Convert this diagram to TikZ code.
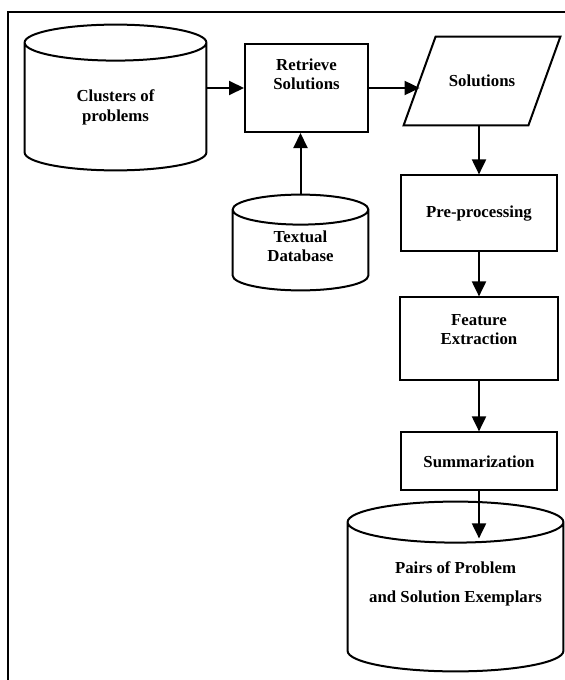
\documentclass[tikz,border=0pt]{standalone}
\usepackage{fontspec}
\setmainfont{Liberation Serif}
\usetikzlibrary{positioning,arrows.meta,calc}

% outline of a drum round the body node #1, ellipse y radius #2
\newcommand{\drum}[2]{%
  \draw[line width=1pt] let \p1=(#1.north west), \p2=(#1.south east),
      \n1={0.5*\x2-0.5*\x1} in
    (\x1,\y1-#2) -- (\x1,\y2+#2)
    arc[start angle=180, end angle=360, x radius={\n1*1pt}, y radius=#2]
    -- (\x2,\y1-#2)
    arc[start angle=0, end angle=360, x radius={\n1*1pt}, y radius=#2];}

% slanted outline round the body node #1, leaning by #2 at top and bottom
\newcommand{\slant}[2]{%
  \draw[line width=1pt] ([xshift=-#2]#1.south west) -- ([xshift=#2]#1.north west)
    -- ([xshift=#2]#1.north east) -- ([xshift=-#2]#1.south east) -- cycle;}

\begin{document}
\begin{tikzpicture}[
  x=0.5pt, y=-0.5pt,
  words/.style = {font=\bfseries\fontsize{8.4}{9.5}\selectfont, align=center, inner sep=0pt},
  box/.style   = {draw, line width=1pt, inner sep=0pt},
  body/.style  = {inner sep=0pt},
  flow/.style  = {-{Triangle[length=7.5pt, width=7pt]}, line width=1pt},
]
\useasboundingbox (0,0) rectangle (564,680);
\fill[white] (0,0) rectangle (564,680);

% ------------------------------------------------------------------ frame --
\draw[line width=1pt] (570,12) -- (8,12) -- (8,690);

% ------------------------------------------------------------ input side --
\node[body, minimum width=90.5pt, minimum height=72.5pt] (clus) at (115.5,97.5) {};
\drum{clus}{9pt}
\node[words] (clus-t) at ([yshift=-4.75pt]clus.center) {Clusters of\\[0.5pt]problems};

\node[box, minimum width=61.5pt, minimum height=44pt] (ret) at (306.5,88) {};
\node[words] (ret-t) at ([yshift=7pt]ret.center) {Retrieve\\Solutions};

\node[body, minimum width=67.5pt, minimum height=47.5pt] (db) at (300.5,242.5) {};
\drum{db}{7.5pt}
\node[words] (db-t) at ([yshift=-1.75pt]db.center) {Textual\\Database};

\node[body, words, minimum width=62pt, minimum height=44pt] (sol) at (482,81) {Solutions};
\slant{sol}{8pt}

% --------------------------------------------------------------- pipeline --
\node[box, words, minimum width=78pt, minimum height=38pt,
      below=24.5pt of sol, xshift=-1.5pt] (pre) {Pre-processing};
\node[box, minimum width=79pt, minimum height=41.5pt, below=22pt of pre] (feat) {};
\node[words] (feat-t) at ([yshift=4.75pt]feat.center) {Feature\\Extraction};
\node[box, words, minimum width=78pt, minimum height=29pt, below=25pt of feat] (summ) {Summarization};

\node[body, minimum width=107.5pt, minimum height=84.5pt] (pairs) at (455.5,586.5) {};
\drum{pairs}{10.25pt}
\node[words] (pairs-t) at ([yshift=1.5pt]pairs.center) {Pairs of Problem\\[5pt]and Solution Exemplars};

% ----------------------------------------------------------------- arrows --
\draw[flow] (clus.east |- ret.west) -- (ret.west);
\draw[flow] (ret.east) -- (ret.east -| sol.west);
\draw[flow] (db.north) -- (db.north |- ret.south);
\draw[flow] (pre.north |- sol.south) -- (pre.north);
\draw[flow] (pre) -- (feat);
\draw[flow] (feat) -- (summ);
\coordinate (drop) at ([yshift=-23.5pt]summ.south);
\draw[flow] (summ) -- (drop);

\end{tikzpicture}
\end{document}
